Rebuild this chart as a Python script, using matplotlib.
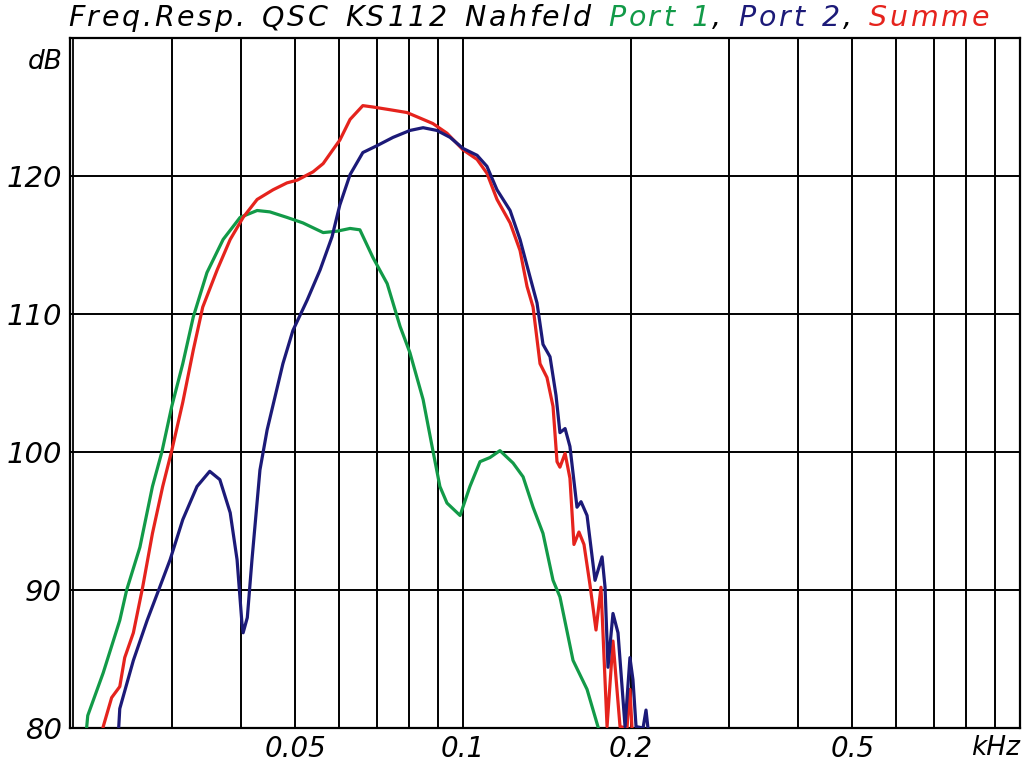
import matplotlib
matplotlib.use("Agg")
import matplotlib.pyplot as plt
from matplotlib.lines import Line2D

# frequencies in kHz, levels in dB
port1_f = [0.0211, 0.0212, 0.0226, 0.0242, 0.0249, 0.0263, 0.0277, 0.0288, 0.0300, 0.0314,
           0.0328, 0.0347, 0.0371, 0.0398, 0.0427, 0.0450, 0.0483, 0.0516, 0.0561, 0.0594,
           0.0627, 0.0653, 0.0689, 0.0731, 0.0771, 0.0803, 0.0848, 0.0883, 0.0909, 0.0936,
           0.0988, 0.1029, 0.1073, 0.1118, 0.1165, 0.1230, 0.1282, 0.1336, 0.1392, 0.1451,
           0.1493, 0.1576, 0.1670, 0.1747]
port1_db = [80.0, 80.9, 84.0, 87.8, 90.0, 93.1, 97.5, 100.0, 103.3, 106.4,
            109.8, 113.0, 115.4, 117.0, 117.5, 117.4, 117.0, 116.6, 115.9, 116.0,
            116.2, 116.1, 114.1, 112.2, 109.1, 107.2, 103.8, 100.1, 97.5, 96.3,
            95.4, 97.5, 99.3, 99.6, 100.1, 99.2, 98.2, 96.0, 94.1, 90.7,
            89.5, 84.9, 82.8, 80.1]

port2_f = [0.0241, 0.0242, 0.0256, 0.0271, 0.0283, 0.0298, 0.0314, 0.0333, 0.0351, 0.0366,
           0.0382, 0.0393, 0.0401, 0.0403, 0.0410, 0.0418, 0.0432, 0.0445, 0.0475, 0.0495,
           0.0525, 0.0554, 0.0582, 0.0601, 0.0627, 0.0661, 0.0701, 0.0749, 0.0803, 0.0848,
           0.0898, 0.0948, 0.1000, 0.1060, 0.1104, 0.1151, 0.1215, 0.1266, 0.1319, 0.1358,
           0.1392, 0.1433, 0.1469, 0.1493, 0.1525, 0.1556, 0.1602, 0.1629, 0.1670, 0.1726,
           0.1777, 0.1799, 0.1821, 0.1859, 0.1898, 0.1954, 0.1994, 0.2019, 0.2045, 0.2105,
           0.2131, 0.2148]
port2_db = [80.1, 81.4, 84.9, 87.8, 89.8, 92.2, 95.1, 97.5, 98.6, 98.0,
            95.6, 92.2, 87.6, 86.9, 88.0, 92.2, 98.7, 101.6, 106.4, 108.8,
            111.0, 113.2, 115.6, 117.9, 120.1, 121.7, 122.2, 122.8, 123.3, 123.5,
            123.3, 122.8, 122.0, 121.5, 120.7, 119.0, 117.5, 115.4, 112.7, 110.8,
            107.8, 106.9, 104.1, 101.4, 101.7, 100.4, 96.0, 96.4, 95.4, 90.7,
            92.4, 90.2, 84.4, 88.3, 86.9, 80.1, 85.1, 83.5, 80.1, 80.0,
            81.3, 80.0]

summe_f = [0.0226, 0.0234, 0.0242, 0.0247, 0.0256, 0.0266, 0.0277, 0.0289, 0.0300, 0.0314,
           0.0328, 0.0341, 0.0362, 0.0382, 0.0403, 0.0427, 0.0456, 0.0483, 0.0504, 0.0538,
           0.0561, 0.0584, 0.0601, 0.0627, 0.0661, 0.0689, 0.0740, 0.0793, 0.0837, 0.0883,
           0.0936, 0.1000, 0.1060, 0.1104, 0.1151, 0.1215, 0.1266, 0.1303, 0.1336, 0.1375,
           0.1415, 0.1451, 0.1475, 0.1493, 0.1525, 0.1556, 0.1582, 0.1615, 0.1649, 0.1690,
           0.1733, 0.1769, 0.1814, 0.1859, 0.1914, 0.1970, 0.1994, 0.2011]
summe_db = [80.1, 82.2, 83.0, 85.1, 86.9, 90.2, 94.1, 97.5, 100.1, 103.6,
            107.4, 110.5, 113.2, 115.4, 117.0, 118.3, 119.0, 119.5, 119.7, 120.3,
            120.9, 121.9, 122.6, 124.1, 125.1, 125.0, 124.8, 124.6, 124.2, 123.8,
            123.1, 121.9, 121.2, 120.2, 118.3, 116.6, 114.6, 112.0, 110.5, 106.4,
            105.4, 103.3, 99.3, 98.9, 99.9, 98.1, 93.3, 94.2, 93.3, 90.4,
            87.1, 90.2, 80.1, 86.3, 80.1, 80.0, 82.8, 80.0]

major_ticks = [0.05, 0.1, 0.2, 0.5]
major_labels = ["0.05", "0.1", "0.2", "0.5"]
minor_ticks = [0.03, 0.04, 0.06, 0.07, 0.08, 0.09, 0.3, 0.4, 0.6, 0.7, 0.8, 0.9]
y_ticks = [80, 90, 100, 110, 120]

GREEN = "#129a48"
NAVY = "#1c1a78"
RED = "#e5231d"
FONT = {"family": "DejaVu Sans", "style": "italic"}

fig = plt.figure(figsize=(10.24, 7.63), dpi=100)
ax = fig.add_axes([70 / 1024, 35 / 763, 950 / 1024, 690 / 763])

ax.set_xscale("log")
ax.set_xlim(0.0197, 1.0)
ax.set_ylim(80, 130)

ax.set_xticks(major_ticks)
ax.set_xticklabels(major_labels, fontdict=FONT, fontsize=20)
ax.set_xticks(minor_ticks, minor=True)
ax.set_xticklabels([], minor=True)
ax.set_yticks(y_ticks)
ax.set_yticklabels([str(v) for v in y_ticks], fontdict=FONT, fontsize=21)
ax.tick_params(which="both", length=0)
ax.tick_params(axis="x", pad=5)
ax.tick_params(axis="y", pad=6)
ax.grid(which="both", color="black", linewidth=1.4)

for sp in ax.spines.values():
    sp.set_linewidth(1.6)
# double line on the left edge
ax.add_line(Line2D([0.0035, 0.0035], [0, 1], transform=ax.transAxes,
                   color="black", linewidth=1.3, clip_on=False))

ax.plot(port1_f, port1_db, color=GREEN, linewidth=2.3, zorder=3)
ax.plot(summe_f, summe_db, color=RED, linewidth=2.3, zorder=3)
ax.plot(port2_f, port2_db, color=NAVY, linewidth=2.3, zorder=4)

ax.text(-0.008, 0.965, "dB", transform=ax.transAxes, ha="right", va="center",
        fontsize=19, **FONT)
ax.text(1.0, -0.029, "kHz", transform=ax.transAxes, ha="right", va="center",
        fontsize=19, **FONT)

# title in coloured pieces, drawn letter by letter with some extra tracking
parts = [("Freq.Resp. QSC KS112 Nahfeld ", "black"),
         ("Port 1", GREEN), (", ", "black"),
         ("Port 2", NAVY), (", ", "black"),
         ("Summe", RED)]
fig.canvas.draw()
renderer = fig.canvas.get_renderer()
ts = 20.5
probe1 = fig.text(0, 0, "x x", fontsize=ts, **FONT)
probe2 = fig.text(0, 0, "xx", fontsize=ts, **FONT)
space_w = probe1.get_window_extent(renderer).width - probe2.get_window_extent(renderer).width
probe1.remove()
probe2.remove()

track = 2.7
x = 68.0
y = (763 - 26) / 763
for s, c in parts:
    for ch in s:
        if ch == " ":
            x += space_w + track + 3
            continue
        t = fig.text(x / 1024, y, ch, color=c, fontsize=ts, va="baseline", ha="left", **FONT)
        x += t.get_window_extent(renderer).width + track

fig.savefig("out.png", dpi=100)
